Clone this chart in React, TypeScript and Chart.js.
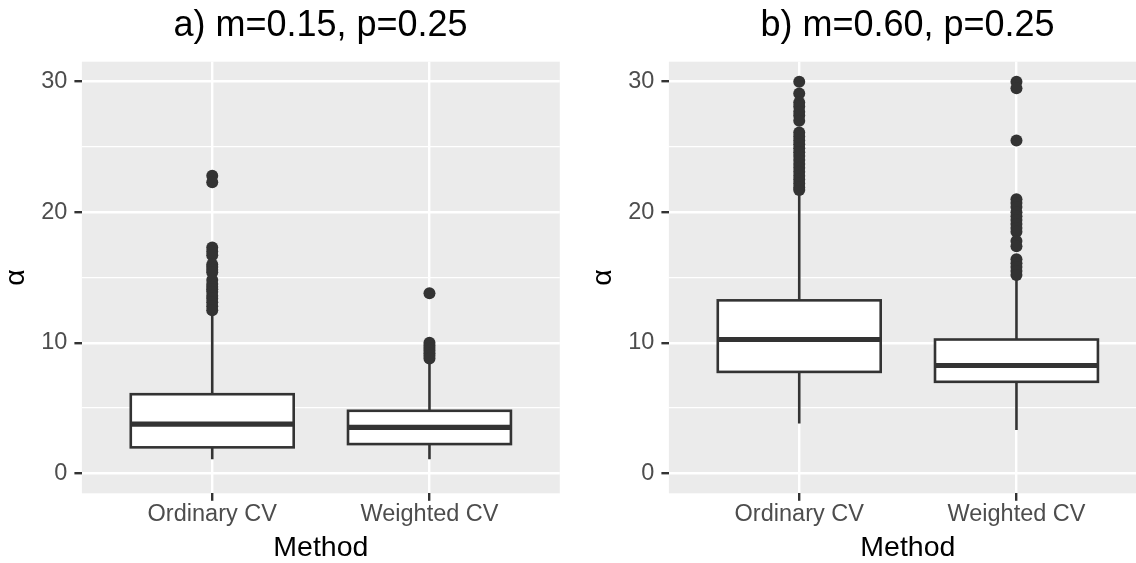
import React, { useEffect, useRef } from "react";
import { Chart, registerables } from "chart.js";
Chart.register(...registerables);

// ---------- data ----------
const categories = ["Ordinary CV", "Weighted CV"];
const yMajorTicks = [0, 10, 20, 30];
const yMinorTicks = [5, 15, 25];
const titleA = "a) m=0.15, p=0.25";
const titleB = "b) m=0.60, p=0.25";
const xTitle = "Method";
const yTitle = "α";

// box statistics: [lower whisker, Q1, median, Q3, upper whisker]
const statsAOrdinary = [1.07, 1.99, 3.77, 6.06, 12.2];
const statsAWeighted = [1.07, 2.24, 3.52, 4.79, 8.5];
const statsBOrdinary = [3.82, 7.77, 10.25, 13.25, 21.4];
const statsBWeighted = [3.31, 7.01, 8.26, 10.25, 14.9];

// outliers
const outAOrdinary = [22.8, 22.3, 17.3, 17.0, 16.7, 16.0, 15.8, 15.6, 15.4, 14.8, 14.5, 14.3, 14.1, 13.9, 13.6, 13.4, 13.1, 12.8, 12.5];
const outAWeighted = [13.8, 10.0, 9.8, 9.6, 9.4, 9.2, 9.0, 8.8];
const outBOrdinary = [30.0, 29.1, 28.4, 28.1, 27.7, 27.4, 27.0, 26.1, 25.8, 25.5, 25.2, 24.9, 24.6, 24.3, 24.0, 23.7, 23.4, 23.1, 22.8, 22.5, 22.2, 21.9, 21.7];
const outBWeighted = [30.0, 29.5, 25.5, 21.0, 20.7, 20.4, 20.0, 19.7, 19.4, 19.1, 18.8, 18.5, 17.8, 17.4, 16.4, 16.1, 15.8, 15.5, 15.2];

// ---------- styling ----------
const FONT = "'Liberation Sans', Arial, Helvetica, sans-serif";
const DARK = "#333333";
const TICK_TEXT = "#4D4D4D";
const PANEL_BG = "#EBEBEB";
const CANVAS_W = 641;
const CANVAS_H = 563;

function makeBoxPlugin(stats: number[][]) {
  return {
    id: "boxes",
    beforeDraw(chart: any) {
      const { ctx, chartArea } = chart;
      ctx.save();
      ctx.fillStyle = PANEL_BG;
      ctx.fillRect(chartArea.left, chartArea.top, chartArea.right - chartArea.left, chartArea.bottom - chartArea.top);
      ctx.restore();
    },
    beforeDatasetsDraw(chart: any) {
      const { ctx } = chart;
      const xs = chart.scales.x;
      const ys = chart.scales.y;
      ctx.save();
      stats.forEach((s, i) => {
        const c = i + 1;
        const cx = xs.getPixelForValue(c);
        const left = xs.getPixelForValue(c - 0.375);
        const right = xs.getPixelForValue(c + 0.375);
        const [lo, q1, med, q3, hi] = s.map((v) => ys.getPixelForValue(v));
        ctx.strokeStyle = DARK;
        ctx.lineWidth = 2.6;
        ctx.beginPath();
        ctx.moveTo(cx, q3);
        ctx.lineTo(cx, hi);
        ctx.moveTo(cx, q1);
        ctx.lineTo(cx, lo);
        ctx.stroke();
        ctx.fillStyle = "#FFFFFF";
        ctx.fillRect(left, q3, right - left, q1 - q3);
        ctx.strokeRect(left, q3, right - left, q1 - q3);
        ctx.lineWidth = 5.2;
        ctx.beginPath();
        ctx.moveTo(left, med);
        ctx.lineTo(right, med);
        ctx.stroke();
      });
      ctx.restore();
    },
  };
}

function makeConfig(title: string, stats: number[][], outliers: number[][]): any {
  const points = outliers.flatMap((arr, i) => arr.map((v) => ({ x: i + 1, y: v })));
  const isMajor = (v: number) => yMajorTicks.includes(v);
  return {
    type: "scatter",
    data: {
      datasets: [
        {
          data: points,
          pointRadius: 6,
          pointHoverRadius: 6,
          pointBackgroundColor: DARK,
          pointBorderWidth: 0,
          pointBorderColor: DARK,
        },
      ],
    },
    options: {
      animation: false,
      responsive: false,
      maintainAspectRatio: false,
      events: [],
      layout: { padding: 0 },
      plugins: {
        legend: { display: false },
        tooltip: { enabled: false },
        title: {
          display: true,
          text: title,
          color: "#000000",
          font: { family: FONT, size: 36, weight: "normal", lineHeight: 1.2 },
          padding: { top: 4.1, bottom: 14.4 },
        },
      },
      scales: {
        x: {
          type: "linear",
          min: 0.4,
          max: 2.6,
          afterBuildTicks: (s: any) => {
            s.ticks = categories.map((_, i) => ({ value: i + 1 }));
          },
          afterFit: (s: any) => {
            s.height = CANVAS_H - 493.3;
          },
          ticks: {
            autoSkip: false,
            maxRotation: 0,
            padding: 0,
            color: TICK_TEXT,
            font: { family: FONT, size: 23.5, lineHeight: 1.2 },
            callback: (v: number) => categories[Math.round(v) - 1] ?? "",
          },
          grid: {
            color: "#FFFFFF",
            lineWidth: 2.4,
            tickColor: DARK,
            tickWidth: 2.4,
            tickLength: 7.5,
          },
          border: { display: false },
          title: {
            display: true,
            text: xTitle,
            color: "#000000",
            font: { family: FONT, size: 28.5, lineHeight: 1.0 },
            padding: { top: 0, bottom: 1 },
          },
        },
        y: {
          type: "linear",
          position: "left",
          min: -1.53,
          max: 31.53,
          afterBuildTicks: (s: any) => {
            s.ticks = [...yMajorTicks, ...yMinorTicks].sort((a, b) => a - b).map((v) => ({ value: v }));
          },
          afterFit: (s: any) => {
            s.width = 81.9;
          },
          ticks: {
            padding: 7,
            color: TICK_TEXT,
            font: { family: FONT, size: 23.5, lineHeight: 1.2 },
            callback: (v: number) => (isMajor(v) ? String(v) : ""),
          },
          grid: {
            color: "#FFFFFF",
            lineWidth: (ctx: any) => (ctx.tick && isMajor(ctx.tick.value) ? 2.4 : 1.2),
            tickColor: (ctx: any) => (ctx.tick && isMajor(ctx.tick.value) ? DARK : "rgba(0,0,0,0)"),
            tickWidth: 2.4,
            tickLength: 7.5,
          },
          border: { display: false },
          title: {
            display: true,
            text: yTitle,
            color: "#000000",
            font: { family: FONT, size: 28.5, lineHeight: 1.0 },
            padding: { top: 1.6, bottom: 0 },
          },
        },
        // empty right-hand spacer so the title stays centred over the panel
        yRight: {
          type: "linear",
          position: "right",
          display: true,
          min: 0,
          max: 1,
          ticks: { display: false },
          grid: { display: false, drawTicks: false },
          border: { display: false },
          afterFit: (s: any) => {
            s.width = CANVAS_W - 559.8;
          },
        },
      },
    },
    plugins: [makeBoxPlugin(stats)],
  };
}

function Panel(props: { left: number; title: string; stats: number[][]; outliers: number[][] }) {
  const ref = useRef<HTMLCanvasElement | null>(null);
  useEffect(() => {
    if (!ref.current) return;
    const chart = new Chart(ref.current, makeConfig(props.title, props.stats, props.outliers));
    return () => chart.destroy();
  }, []);
  return (
    <canvas
      ref={ref}
      width={CANVAS_W}
      height={CANVAS_H}
      style={{ position: "absolute", left: props.left, top: 0, width: CANVAS_W, height: CANVAS_H }}
    />
  );
}

export default function App() {
  return (
    <div
      style={{
        position: "fixed",
        left: 0,
        top: 0,
        width: 1136,
        height: 563,
        overflow: "hidden",
        background: "#FFFFFF",
      }}
    >
      <Panel left={0} title={titleA} stats={[statsAOrdinary, statsAWeighted]} outliers={[outAOrdinary, outAWeighted]} />
      <Panel left={587} title={titleB} stats={[statsBOrdinary, statsBWeighted]} outliers={[outBOrdinary, outBWeighted]} />
    </div>
  );
}
